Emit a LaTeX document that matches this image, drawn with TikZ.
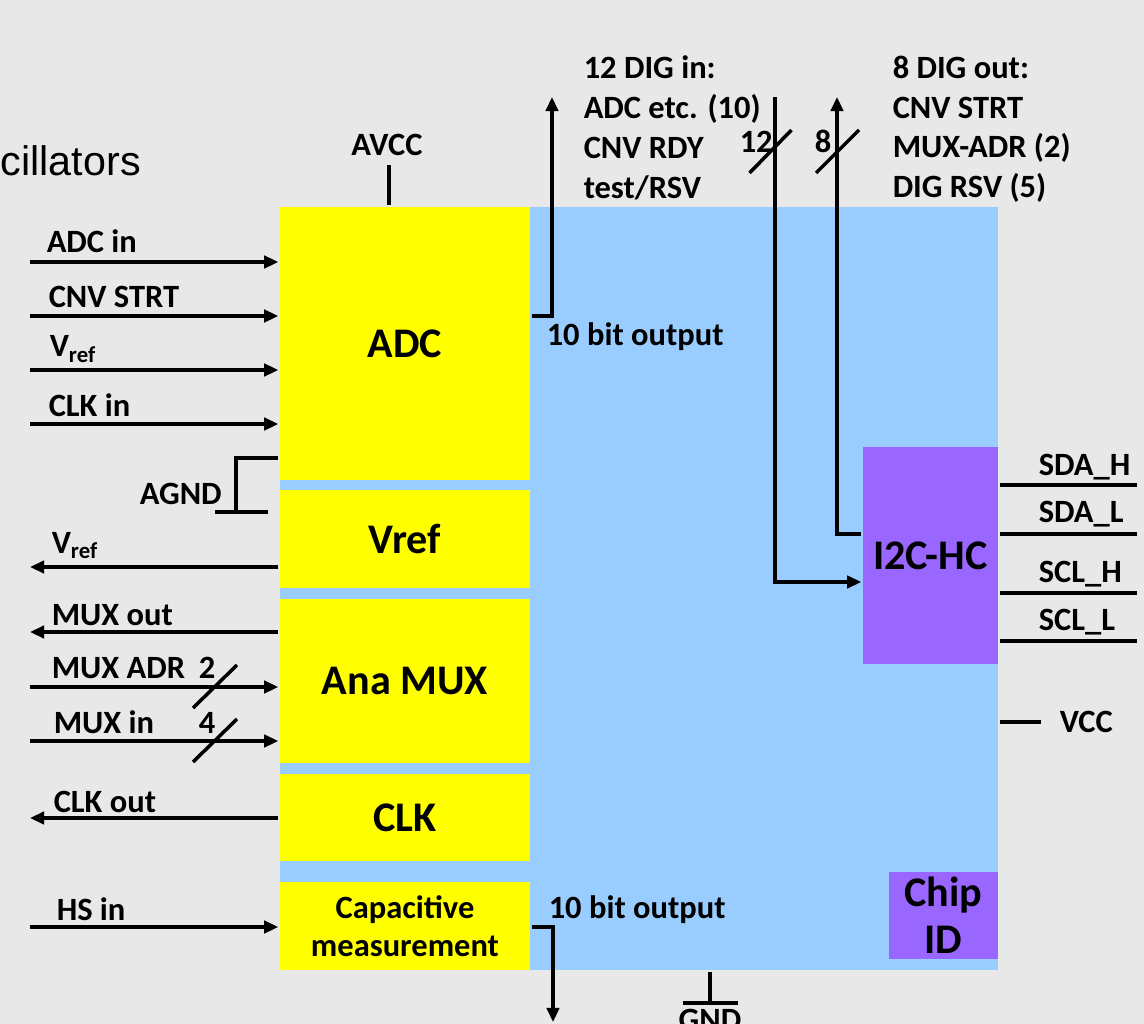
\documentclass[tikz,border=0pt]{standalone}
\usepackage{fontspec}
\setmainfont{Carlito}
\newfontfamily\arialfont{Liberation Sans}
\usetikzlibrary{arrows.meta}

\definecolor{bgGray}{HTML}{E8E8E8}
\definecolor{chipBlue}{HTML}{99CCFF}
\definecolor{blkYellow}{HTML}{FFFF00}
\definecolor{blkPurple}{HTML}{9966FF}

\begin{document}
\begin{tikzpicture}[x=0.02cm, y=-0.02cm, line width=2pt,
    wire/.style={line width=2pt},
    wirein/.style={wire, -{Triangle[length=8pt, width=7pt]}},
    lbl/.style={font=\bfseries\fontsize{18.5}{22.7}\selectfont, inner sep=0pt},
    biglbl/.style={font=\bfseries\fontsize{24}{26.6}\selectfont},
    yblock/.style={fill=blkYellow, minimum width=5cm, inner sep=0pt, biglbl},
    pblock/.style={fill=blkPurple, inner sep=0pt, biglbl, align=center}]

    % Background
    \fill[bgGray] (0,0) rectangle (1144,1024);
    \useasboundingbox (0,0) rectangle (1144,1024);
    \node[font=\arialfont\fontsize{23.5}{26}\selectfont, anchor=base west, inner sep=0pt] (osc) at (-1,175) {cillators};

    % Chip body
    \node[fill=chipBlue, minimum width=14.36cm, minimum height=15.26cm, inner sep=0pt] (chip) at (639,588.5) {};

    % Analog blocks
    \node[yblock, minimum height=5.46cm] (adc) at (405,343.5) {ADC};
    \node[yblock, minimum height=1.96cm] (vref) at (405,539) {Vref};
    \node[yblock, minimum height=3.28cm] (amux) at (405,681) {Ana MUX};
    \node[yblock, minimum height=1.74cm] (clk) at (405,817.5) {CLK};
    \node[yblock, minimum height=1.76cm, font=\bfseries\fontsize{18.5}{21.5}\selectfont, align=center] (cap) at (405,926) {Capacitive\\measurement};

    % Digital blocks
    \node[pblock, minimum width=2.7cm, minimum height=4.34cm] (i2c) at (930.5,555.5) {I2C-HC};
    \node[pblock, minimum width=2.18cm, minimum height=1.74cm] (chipid) at (943.5,915.5) {Chip\\ID};

    % Supply
    \coordinate (avcc) at (389,165);
    \draw[wire] (avcc) -- (avcc |- chip.north);
    \node[lbl, anchor=base] (avccl) at (387,156) {AVCC};
    \coordinate (vcc) at (1041,722);
    \draw[wire] (vcc -| chip.east) -- (vcc);
    \node[lbl, anchor=base west] (vccl) at (1058,732) {VCC};
    \coordinate (gnd) at (710,1003);
    \draw[wire] (gnd |- chip.south) -- (gnd);
    \draw[wire] (gnd) ++(-27,0) -- ++(55,0);
    \node[lbl, anchor=north] (gndl) at (710,1007) {GND};

    % ADC inputs
    \coordinate (adcin) at (30,262);
    \draw[wirein] (adcin) -- (adcin -| adc.west);
    \node[lbl, anchor=base west] (adcinl) at (45,253) {ADC in};
    \coordinate (cnvin) at (30,316);
    \draw[wirein] (cnvin) -- (cnvin -| adc.west);
    \node[lbl, anchor=base west] (cnvinl) at (47,307) {CNV STRT};
    \coordinate (vrefin) at (30,370);
    \draw[wirein] (vrefin) -- (vrefin -| adc.west);
    \node[lbl, anchor=base west] (vrefinl) at (48,357) {V\textsubscript{ref}};
    \coordinate (clkin) at (30,424);
    \draw[wirein] (clkin) -- (clkin -| adc.west);
    \node[lbl, anchor=base west] (clkinl) at (47,416) {CLK in};

    % AGND
    \coordinate (agndtop) at (236,458);
    \coordinate (agnd) at (236,512);
    \draw[wire] (agndtop -| adc.west) -- (agndtop) -- (agnd);
    \draw[wire] (agnd) ++(-21,0) -- ++(53,0);
    \node[lbl, anchor=base west] (agndl) at (138,504) {AGND};

    % Outputs and MUX pins
    \coordinate (vrefout) at (30,567);
    \draw[wirein] (vrefout -| vref.west) -- (vrefout);
    \node[lbl, anchor=base west] (vrefoutl) at (50,553) {V\textsubscript{ref}};
    \coordinate (muxout) at (30,632);
    \draw[wirein] (muxout -| amux.west) -- (muxout);
    \node[lbl, anchor=base west] (muxoutl) at (50,625) {MUX out};
    \coordinate (muxadr) at (30,687);
    \draw[wirein] (muxadr) -- (muxadr -| amux.west);
    \node[lbl, anchor=base west] (muxadrl) at (50,678) {MUX ADR};
    \draw[wire] (215,687) ++(-22,21) -- ++(44,-43);
    \node[lbl, anchor=base west] (muxadrn) at (197,678) {2};
    \coordinate (muxin) at (30,741);
    \draw[wirein] (muxin) -- (muxin -| amux.west);
    \node[lbl, anchor=base west] (muxinl) at (52,733) {MUX in};
    \draw[wire] (215,741) ++(-22,21) -- ++(44,-43);
    \node[lbl, anchor=base west] (muxinn) at (197,733) {4};
    \coordinate (clkout) at (30,818);
    \draw[wirein] (clkout -| clk.west) -- (clkout);
    \node[lbl, anchor=base west] (clkoutl) at (52,812) {CLK out};
    \coordinate (hsin) at (30,927);
    \draw[wirein] (hsin) -- (hsin -| cap.west);
    \node[lbl, anchor=base west] (hsinl) at (55,920) {HS in};

    % 10 bit buses
    \coordinate (adcturn) at (552,316);
    \coordinate (adcbus) at (552,97);
    \draw[wirein] (adcturn -| adc.east) -- (adcturn) -- (adcbus);
    \node[lbl, anchor=base west] (adcbusl) at (545,345) {10 bit output};
    \coordinate (capturn) at (553,927);
    \coordinate (capbus) at (553,1022);
    \draw[wirein] (capturn -| cap.east) -- (capturn) -- (capbus);
    \node[lbl, anchor=base west] (capbusl) at (547,918) {10 bit output};

    % Digital buses
    \coordinate (digin) at (775,97);
    \coordinate (diginturn) at (775,582);
    \draw[wirein] (digin) -- (diginturn) -- (diginturn -| i2c.west);
    \draw[wire] (770.5,151.5) ++(-21,21.5) -- ++(42,-43);
    \node[lbl, anchor=base west] (diginn) at (738,153) {12};
    \coordinate (digout) at (837,97);
    \coordinate (digoutturn) at (837,534);
    \draw[wirein] (digoutturn -| i2c.west) -- (digoutturn) -- (digout);
    \draw[wire] (837.5,151.5) ++(-21.5,21.5) -- ++(43,-43);
    \node[lbl, anchor=base west] (digoutn) at (813,153) {8};
    \node[lbl, anchor=north west, align=left] (diginl) at (582,54) {12 DIG in:\\ADC etc. (10)\\CNV RDY\\test/RSV};
    \node[lbl, anchor=north west, align=left] (digoutl) at (891,54) {8 DIG out:\\CNV STRT\\MUX-ADR (2)\\DIG RSV (5)};

    % I2C lines
    \coordinate (sdah) at (1137,485);
    \draw[wire] (sdah -| i2c.east) -- (sdah);
    \node[lbl, anchor=base west] (sdahl) at (1037,475) {SDA\_H};
    \coordinate (sdal) at (1137,534);
    \draw[wire] (sdal -| i2c.east) -- (sdal);
    \node[lbl, anchor=base west] (sdall) at (1037,522) {SDA\_L};
    \coordinate (sclh) at (1137,593);
    \draw[wire] (sclh -| i2c.east) -- (sclh);
    \node[lbl, anchor=base west] (sclhl) at (1037,582) {SCL\_H};
    \coordinate (scll) at (1137,641);
    \draw[wire] (scll -| i2c.east) -- (scll);
    \node[lbl, anchor=base west] (sclll) at (1037,630) {SCL\_L};
\end{tikzpicture}
\end{document}
